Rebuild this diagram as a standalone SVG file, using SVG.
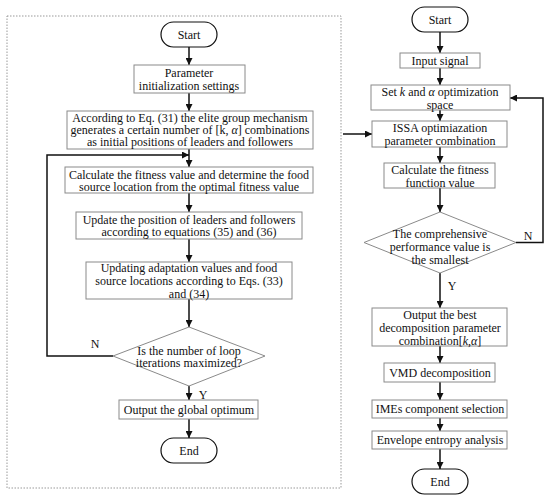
<svg xmlns="http://www.w3.org/2000/svg" width="550" height="499" viewBox="0 0 550 499">
<style>
text{font-family:"Liberation Serif","Times New Roman",serif;font-size:12px;fill:#111;text-anchor:middle;dominant-baseline:central}
.box{fill:#fff;stroke:#8a8a8a;stroke-width:1}
.term{fill:#fff;stroke:#111;stroke-width:1.2}
.ln{fill:none;stroke:#111;stroke-width:1.5}
.frame{fill:none;stroke:#999;stroke-width:1;stroke-dasharray:1.5,1.5}
</style>
<defs>
<marker id="ah" viewBox="0 0 10 10" refX="10" refY="5" markerWidth="7" markerHeight="7" markerUnits="userSpaceOnUse" orient="auto"><path d="M0,0 L10,5 L0,10 z" fill="#111"/></marker>
</defs>
<rect class="frame" x="7" y="16" width="334" height="472"/>
<g id="connectors">
<path class="ln" d="M189,47 V65" marker-end="url(#ah)"/>
<path class="ln" d="M189,93 V111" marker-end="url(#ah)"/>
<path class="ln" d="M189,149 V167" marker-end="url(#ah)"/>
<path class="ln" d="M189,193 V212" marker-end="url(#ah)"/>
<path class="ln" d="M189,239 V262" marker-end="url(#ah)"/>
<path class="ln" d="M189,299 V327" marker-end="url(#ah)"/>
<path class="ln" d="M113,356 H47 V155 H189" marker-end="url(#ah)"/>
<path class="ln" d="M189,386 V400" marker-end="url(#ah)"/>
<path class="ln" d="M189,419 V438" marker-end="url(#ah)"/>
<path class="ln" d="M343,134 H372" marker-end="url(#ah)"/>
<path class="ln" d="M440,32 V53" marker-end="url(#ah)"/>
<path class="ln" d="M440,68 V85" marker-end="url(#ah)"/>
<path class="ln" d="M440,110 V121" marker-end="url(#ah)"/>
<path class="ln" d="M440,147 V163" marker-end="url(#ah)"/>
<path class="ln" d="M440,188 V212" marker-end="url(#ah)"/>
<path class="ln" d="M516,242.5 H543 V98 H510" marker-end="url(#ah)"/>
<path class="ln" d="M440,273 V308" marker-end="url(#ah)"/>
<path class="ln" d="M440,346 V363" marker-end="url(#ah)"/>
<path class="ln" d="M440,382 V400" marker-end="url(#ah)"/>
<path class="ln" d="M440,418 V431" marker-end="url(#ah)"/>
<path class="ln" d="M440,449 V469" marker-end="url(#ah)"/>
<text x="95" y="344">N</text>
<text x="203" y="395">Y</text>
<text x="528" y="236">N</text>
<text x="452" y="286">Y</text>
</g>
<g id="l-start"><rect class="term" x="161" y="22" width="56" height="25" rx="12.5"/><text x="189" y="34.5">Start</text></g>
<g id="l-param"><rect class="box" x="134" y="65" width="111" height="28"/><text x="189" y="73">Parameter</text><text x="189" y="86">initialization settings</text></g>
<g id="l-elite"><rect class="box" x="67" y="111" width="246" height="38"/><text x="190" y="118">According to Eq. (31) the elite group mechanism</text><text x="190" y="130">generates a certain number of [k, <tspan font-style="italic">α</tspan>] combinations</text><text x="190" y="142">as initial positions of leaders and followers</text></g>
<g id="l-fitness"><rect class="box" x="65" y="167" width="248" height="26"/><text x="189" y="175">Calculate the fitness value and determine the food</text><text x="189" y="187">source location from the optimal fitness value</text></g>
<g id="l-update"><rect class="box" x="76" y="212" width="226" height="27"/><text x="189" y="220">Update the position of leaders and followers</text><text x="189" y="232">according to equations (35) and (36)</text></g>
<g id="l-adapt"><rect class="box" x="86" y="262" width="206" height="37"/><text x="189" y="268">Updating adaptation values and food</text><text x="189" y="281">source locations according to Eqs. (33)</text><text x="189" y="294">and (34)</text></g>
<g id="l-loop"><polygon class="box" points="189,327 265,356 189,386 113,356"/><text x="189" y="351">Is the number of loop</text><text x="189" y="363">iterations maximized?</text></g>
<g id="l-output"><rect class="box" x="119" y="400" width="139" height="19"/><text x="189" y="410">Output the global optimum</text></g>
<g id="l-end"><rect class="term" x="161" y="438" width="56" height="25" rx="12.5"/><text x="189" y="450.5">End</text></g>
<g id="r-start"><rect class="term" x="412" y="7" width="56" height="25" rx="12.5"/><text x="440" y="19.5">Start</text></g>
<g id="r-input"><rect class="box" x="400" y="53" width="80" height="15"/><text x="440" y="60.5">Input signal</text></g>
<g id="r-set"><rect class="box" x="371" y="85" width="139" height="25"/><text x="440" y="92">Set <tspan font-style="italic">k</tspan> and <tspan font-style="italic">α</tspan> optimization</text><text x="440" y="105">space</text></g>
<g id="r-issa"><rect class="box" x="372" y="121" width="135" height="26"/><text x="440" y="127.5">ISSA optimiazation</text><text x="440" y="140.5">parameter combination</text></g>
<g id="r-calc"><rect class="box" x="384" y="163" width="111" height="25"/><text x="440" y="170">Calculate the fitness</text><text x="440" y="183">function value</text></g>
<g id="r-perf"><polygon class="box" points="440,212 516,242.5 440,273 364,242.5"/><text x="440" y="234">The comprehensive</text><text x="440" y="247">performance value is</text><text x="440" y="260">the smallest</text></g>
<g id="r-best"><rect class="box" x="372" y="308" width="135" height="38"/><text x="440" y="315">Output the best</text><text x="440" y="328">decomposition parameter</text><text x="440" y="341">combination[<tspan font-style="italic">k</tspan>,<tspan font-style="italic">α</tspan>]</text></g>
<g id="r-vmd"><rect class="box" x="384" y="363" width="111" height="19"/><text x="440" y="373">VMD decomposition</text></g>
<g id="r-imes"><rect class="box" x="372" y="400" width="135" height="18"/><text x="440" y="409">IMEs component selection</text></g>
<g id="r-env"><rect class="box" x="372" y="431" width="135" height="18"/><text x="440" y="440">Envelope entropy analysis</text></g>
<g id="r-end"><rect class="term" x="412" y="469" width="56" height="25" rx="12.5"/><text x="440" y="481.5">End</text></g>
</svg>
